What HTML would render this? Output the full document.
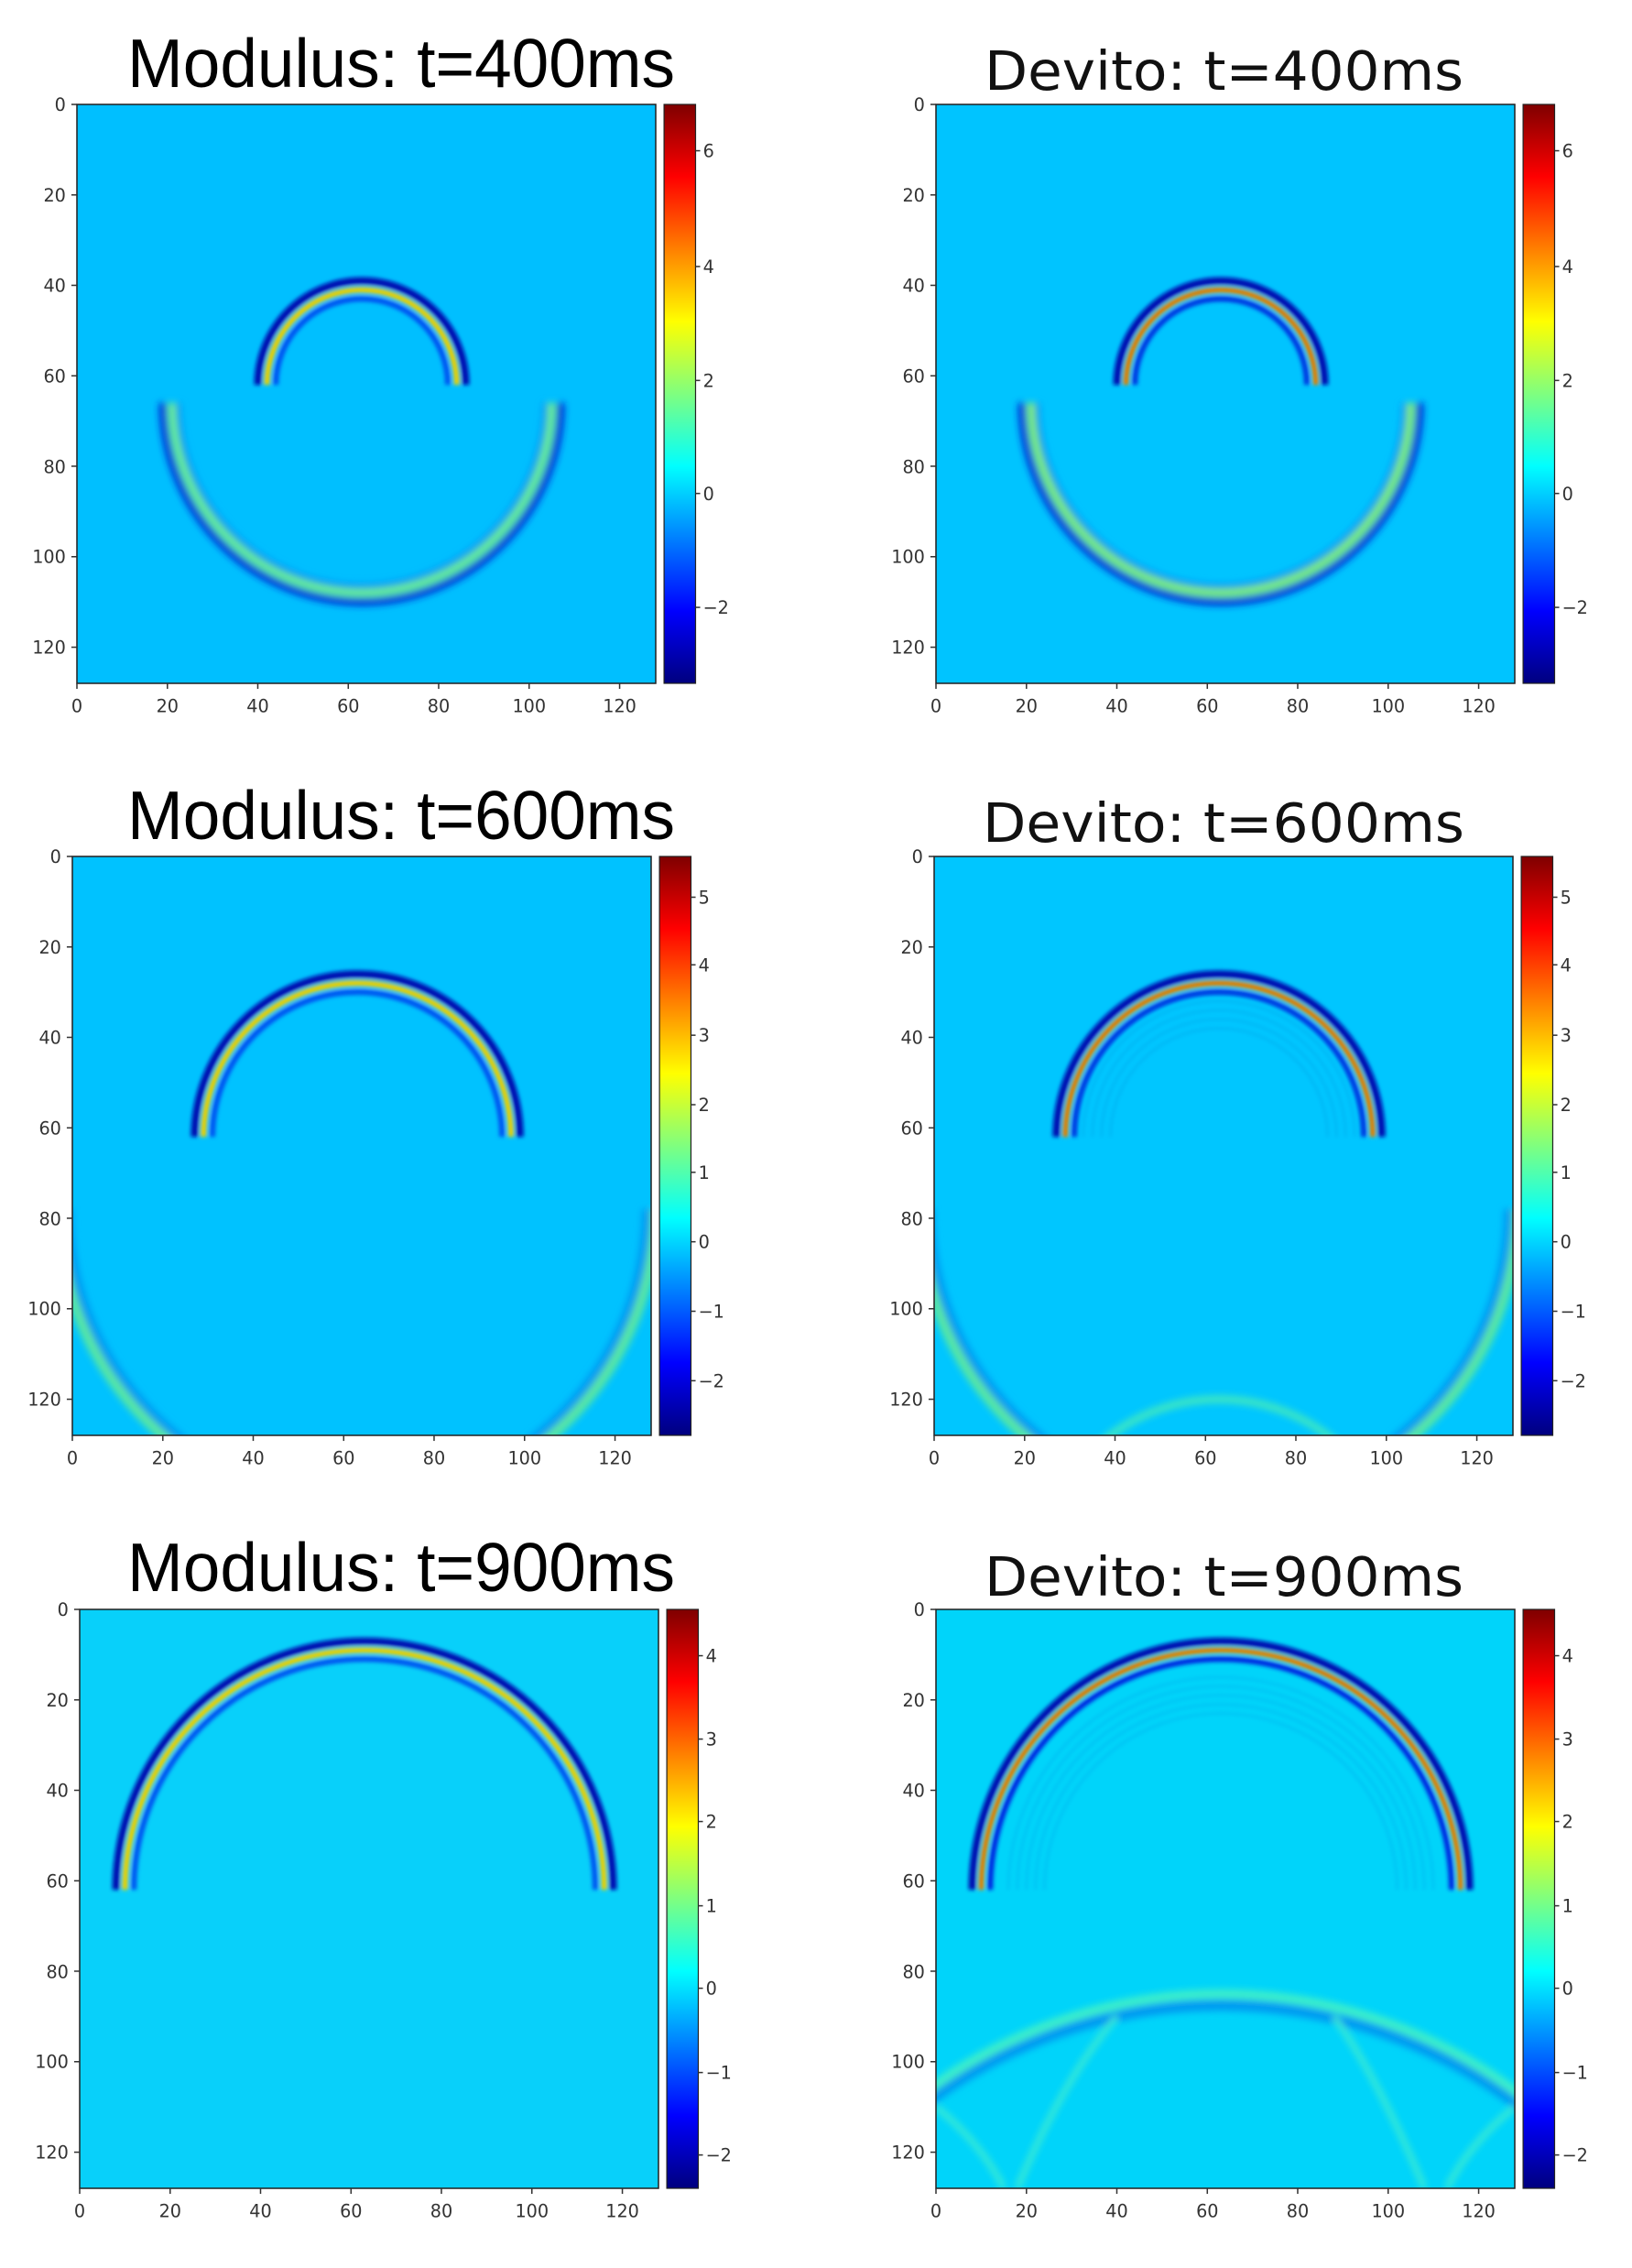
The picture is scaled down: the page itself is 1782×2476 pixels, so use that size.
<!DOCTYPE html>
<html><head><meta charset="utf-8"><style>
html,body{margin:0;padding:0;background:#fff;width:1782px;height:2476px;overflow:hidden;}
svg{display:block}
.t{font-family:"DejaVu Sans",sans-serif;font-size:19px;fill:#333}
</style></head><body>
<svg width="1782" height="2476" viewBox="0 0 1782 2476" xmlns="http://www.w3.org/2000/svg">
<defs>
<linearGradient id="jet" x1="0" y1="0" x2="0" y2="1">
<stop offset="0" stop-color="#7f0000"/><stop offset="0.125" stop-color="#ff0000"/><stop offset="0.375" stop-color="#ffff00"/><stop offset="0.5" stop-color="#7fff7f"/><stop offset="0.625" stop-color="#00ffff"/><stop offset="0.875" stop-color="#0000ff"/><stop offset="1" stop-color="#00007f"/>
</linearGradient>
<filter id="b" x="-20%" y="-20%" width="140%" height="140%"><feGaussianBlur stdDeviation="0.45"/></filter>
<filter id="b2" x="-20%" y="-20%" width="140%" height="140%"><feGaussianBlur stdDeviation="0.8"/></filter>
<g id="yt">
<g class="t" text-anchor="end">
<text x="-12" y="7">0</text><text x="-12" y="105">20</text><text x="-12" y="202">40</text><text x="-12" y="300">60</text><text x="-12" y="398">80</text><text x="-12" y="495">100</text><text x="-12" y="593">120</text>
</g>
<g stroke="#333" stroke-width="1.5">
<line x1="-6" y1="0" x2="0" y2="0"/><line x1="-6" y1="97.7" x2="0" y2="97.7"/><line x1="-6" y1="195.3" x2="0" y2="195.3"/><line x1="-6" y1="293" x2="0" y2="293"/><line x1="-6" y1="390.6" x2="0" y2="390.6"/><line x1="-6" y1="488.3" x2="0" y2="488.3"/><line x1="-6" y1="586" x2="0" y2="586"/>
<line x1="0" y1="625" x2="0" y2="631"/><line x1="97.7" y1="625" x2="97.7" y2="631"/><line x1="195.3" y1="625" x2="195.3" y2="631"/><line x1="293" y1="625" x2="293" y2="631"/><line x1="390.6" y1="625" x2="390.6" y2="631"/><line x1="488.3" y1="625" x2="488.3" y2="631"/><line x1="586" y1="625" x2="586" y2="631"/>
</g>
<g class="t" text-anchor="middle">
<text x="0" y="656">0</text><text x="97.7" y="656">20</text><text x="195.3" y="656">40</text><text x="293" y="656">60</text><text x="390.6" y="656">80</text><text x="488.3" y="656">100</text><text x="586" y="656">120</text>
</g>
</g>
</defs>

<!-- Titles -->
<g font-family="'Liberation Sans',Arial,sans-serif" font-size="75" fill="#000">
<text x="139" y="95" textLength="598" lengthAdjust="spacingAndGlyphs">Modulus: t=400ms</text>
<text x="139" y="916" textLength="598" lengthAdjust="spacingAndGlyphs">Modulus: t=600ms</text>
<text x="139" y="1737" textLength="598" lengthAdjust="spacingAndGlyphs">Modulus: t=900ms</text>
</g>
<g font-family="'DejaVu Sans',sans-serif" font-size="59" fill="#111">
<text x="1075" y="98" textLength="523" lengthAdjust="spacingAndGlyphs">Devito: t=400ms</text>
<text x="1073" y="919" textLength="526" lengthAdjust="spacingAndGlyphs">Devito: t=600ms</text>
<text x="1075" y="1742" textLength="523" lengthAdjust="spacingAndGlyphs">Devito: t=900ms</text>
</g>

<!-- P1 Modulus 400 -->
<g transform="translate(84,114) scale(1.0112)">
<svg width="625" height="625" viewBox="0 0 128 128" preserveAspectRatio="none" fill="none">
<rect width="128" height="128" fill="#00bfff"/>
<g filter="url(#b2)">
<path d="M22,66 A41 41 0 0 0 104,66" stroke="#0090f0" stroke-width="2"/>
<path d="M19,66 A44 44 0 0 0 107,66" stroke="#0020d0" stroke-width="1.6"/>
<path d="M21,66 A42 42 0 0 0 105,66" stroke="#6af090" stroke-width="1.8"/>
</g>
<g filter="url(#b)">
<path d="M40,62 A23 23 0 0 1 86,62" stroke="#0010b0" stroke-width="1.6"/>
<path d="M42,62 A21 21 0 0 1 84,62" stroke="#f0d000" stroke-width="1.3"/>
<path d="M44,62 A19 19 0 0 1 82,62" stroke="#0050f0" stroke-width="1.2"/>
</g>
</svg>
<rect width="625" height="625" fill="none" stroke="#222" stroke-width="1.5"/>
<use href="#yt"/>
<g transform="translate(634,0)"><rect width="34" height="625" fill="url(#jet)" stroke="#222" stroke-width="1.2"/>
<g class="t"><text x="42" y="57">6</text><text x="42" y="182">4</text><text x="42" y="305">2</text><text x="42" y="427">0</text><text x="42" y="550">−2</text></g>
<g stroke="#333" stroke-width="1.5"><line x1="34" y1="50" x2="39" y2="50"/><line x1="34" y1="175" x2="39" y2="175"/><line x1="34" y1="298" x2="39" y2="298"/><line x1="34" y1="420" x2="39" y2="420"/><line x1="34" y1="543" x2="39" y2="543"/></g></g>
</g>

<!-- P2 Devito 400 -->
<g transform="translate(1022,114) scale(1.0112)">
<svg width="625" height="625" viewBox="0 0 128 128" preserveAspectRatio="none" fill="none">
<rect width="128" height="128" fill="#00c4ff"/>
<g filter="url(#b2)">
<path d="M22,66 A41 41 0 0 0 104,66" stroke="#0090f0" stroke-width="2"/>
<path d="M19,66 A44 44 0 0 0 107,66" stroke="#0020d0" stroke-width="1.6"/>
<path d="M21,66 A42 42 0 0 0 105,66" stroke="#80f070" stroke-width="1.8"/>
</g>
<g filter="url(#b)">
<path d="M40,62 A23 23 0 0 1 86,62" stroke="#0010b0" stroke-width="1.6"/>
<path d="M42,62 A21 21 0 0 1 84,62" stroke="#f0c000" stroke-width="1.3"/>
<path d="M42,62 A21 21 0 0 1 84,62" stroke="#e02000" stroke-width="0.6"/>
<path d="M44,62 A19 19 0 0 1 82,62" stroke="#0030e0" stroke-width="1.2"/>
</g>
</svg>
<rect width="625" height="625" fill="none" stroke="#222" stroke-width="1.5"/>
<use href="#yt"/>
<g transform="translate(634,0)"><rect width="34" height="625" fill="url(#jet)" stroke="#222" stroke-width="1.2"/>
<g class="t"><text x="42" y="57">6</text><text x="42" y="182">4</text><text x="42" y="305">2</text><text x="42" y="427">0</text><text x="42" y="550">−2</text></g>
<g stroke="#333" stroke-width="1.5"><line x1="34" y1="50" x2="39" y2="50"/><line x1="34" y1="175" x2="39" y2="175"/><line x1="34" y1="298" x2="39" y2="298"/><line x1="34" y1="420" x2="39" y2="420"/><line x1="34" y1="543" x2="39" y2="543"/></g></g>
</g>

<!-- P3 Modulus 600 -->
<g transform="translate(79,935) scale(1.0112)">
<svg width="625" height="625" viewBox="0 0 128 128" preserveAspectRatio="none" fill="none">
<rect width="128" height="128" fill="#00c2ff"/>
<g filter="url(#b2)">
<path d="M-1,78 A64 64 0 0 0 127,78" stroke="#0098f0" stroke-width="2"/>
<path d="M-3,78 A66 66 0 0 0 129,78" stroke="#5ae8a0" stroke-width="2.2"/>
</g>
<g filter="url(#b)">
<path d="M27,62 A36 36 0 0 1 99,62" stroke="#0010b0" stroke-width="1.6"/>
<path d="M29,62 A34 34 0 0 1 97,62" stroke="#f0d000" stroke-width="1.3"/>
<path d="M31,62 A32 32 0 0 1 95,62" stroke="#0050f0" stroke-width="1.2"/>
</g>
</svg>
<rect width="625" height="625" fill="none" stroke="#222" stroke-width="1.5"/>
<use href="#yt"/>
<g transform="translate(634,0)"><rect width="34" height="625" fill="url(#jet)" stroke="#222" stroke-width="1.2"/>
<g class="t"><text x="42" y="51">5</text><text x="42" y="124">4</text><text x="42" y="200">3</text><text x="42" y="275">2</text><text x="42" y="348">1</text><text x="42" y="423">0</text><text x="42" y="498">−1</text><text x="42" y="573">−2</text></g>
<g stroke="#333" stroke-width="1.5"><line x1="34" y1="44" x2="39" y2="44"/><line x1="34" y1="117" x2="39" y2="117"/><line x1="34" y1="193" x2="39" y2="193"/><line x1="34" y1="268" x2="39" y2="268"/><line x1="34" y1="341" x2="39" y2="341"/><line x1="34" y1="416" x2="39" y2="416"/><line x1="34" y1="491" x2="39" y2="491"/><line x1="34" y1="566" x2="39" y2="566"/></g></g>
</g>

<!-- P4 Devito 600 -->
<g transform="translate(1020,935) scale(1.0112)">
<svg width="625" height="625" viewBox="0 0 128 128" preserveAspectRatio="none" fill="none">
<rect width="128" height="128" fill="#00c6ff"/>
<g filter="url(#b2)">
<path d="M-1,78 A64 64 0 0 0 127,78" stroke="#0098f0" stroke-width="2"/>
<path d="M-3,78 A66 66 0 0 0 129,78" stroke="#5ae8a0" stroke-width="2.2"/>
<path d="M23,160 A40 40 0 0 1 103,160" stroke="#40e8c0" stroke-width="1.6"/>
</g>
<g filter="url(#b)">
<g stroke="#00aef0" stroke-width="0.35">
<path d="M33,62 A30 30 0 0 1 93,62"/><path d="M35,62 A28 28 0 0 1 91,62"/><path d="M37,62 A26 26 0 0 1 89,62"/><path d="M39,62 A24 24 0 0 1 87,62"/>
</g>
<path d="M27,62 A36 36 0 0 1 99,62" stroke="#0010b0" stroke-width="1.6"/>
<path d="M29,62 A34 34 0 0 1 97,62" stroke="#f0c000" stroke-width="1.3"/>
<path d="M29,62 A34 34 0 0 1 97,62" stroke="#e02000" stroke-width="0.6"/>
<path d="M31,62 A32 32 0 0 1 95,62" stroke="#0030e0" stroke-width="1.2"/>
</g>
</svg>
<rect width="625" height="625" fill="none" stroke="#222" stroke-width="1.5"/>
<use href="#yt"/>
<g transform="translate(634,0)"><rect width="34" height="625" fill="url(#jet)" stroke="#222" stroke-width="1.2"/>
<g class="t"><text x="42" y="51">5</text><text x="42" y="124">4</text><text x="42" y="200">3</text><text x="42" y="275">2</text><text x="42" y="348">1</text><text x="42" y="423">0</text><text x="42" y="498">−1</text><text x="42" y="573">−2</text></g>
<g stroke="#333" stroke-width="1.5"><line x1="34" y1="44" x2="39" y2="44"/><line x1="34" y1="117" x2="39" y2="117"/><line x1="34" y1="193" x2="39" y2="193"/><line x1="34" y1="268" x2="39" y2="268"/><line x1="34" y1="341" x2="39" y2="341"/><line x1="34" y1="416" x2="39" y2="416"/><line x1="34" y1="491" x2="39" y2="491"/><line x1="34" y1="566" x2="39" y2="566"/></g></g>
</g>

<!-- P5 Modulus 900 -->
<g transform="translate(87,1757) scale(1.0112)">
<svg width="625" height="625" viewBox="0 0 128 128" preserveAspectRatio="none" fill="none">
<rect width="128" height="128" fill="#08d0fa"/>
<g filter="url(#b)">
<path d="M8,62 A55 55 0 0 1 118,62" stroke="#0010b0" stroke-width="1.6"/>
<path d="M10,62 A53 53 0 0 1 116,62" stroke="#f0d000" stroke-width="1.3"/>
<path d="M12,62 A51 51 0 0 1 114,62" stroke="#0050f0" stroke-width="1.2"/>
</g>
</svg>
<rect width="625" height="625" fill="none" stroke="#222" stroke-width="1.5"/>
<use href="#yt"/>
<g transform="translate(634,0)"><rect width="34" height="625" fill="url(#jet)" stroke="#222" stroke-width="1.2"/>
<g class="t"><text x="42" y="57">4</text><text x="42" y="147">3</text><text x="42" y="236">2</text><text x="42" y="327">1</text><text x="42" y="416">0</text><text x="42" y="507">−1</text><text x="42" y="596">−2</text></g>
<g stroke="#333" stroke-width="1.5"><line x1="34" y1="50" x2="39" y2="50"/><line x1="34" y1="140" x2="39" y2="140"/><line x1="34" y1="229" x2="39" y2="229"/><line x1="34" y1="320" x2="39" y2="320"/><line x1="34" y1="409" x2="39" y2="409"/><line x1="34" y1="500" x2="39" y2="500"/><line x1="34" y1="589" x2="39" y2="589"/></g></g>
</g>

<!-- P6 Devito 900 -->
<g transform="translate(1022,1757) scale(1.0112)">
<svg width="625" height="625" viewBox="0 0 128 128" preserveAspectRatio="none" fill="none">
<rect width="128" height="128" fill="#00d4fa"/>
<g filter="url(#b2)">
<path d="M-46,194 A109 109 0 0 1 172,194" stroke="#0098f0" stroke-width="2.4" transform="translate(0,2.5)"/>
<path d="M-46,194 A109 109 0 0 1 172,194" stroke="#40f0c8" stroke-width="2"/>
<path d="M18,128 Q28,104 40,90" stroke="#40ecd0" stroke-width="1.2"/>
<path d="M108,128 Q98,104 88,90" stroke="#40ecd0" stroke-width="1.2"/>
<path d="M0,110 Q10,118 15,128" stroke="#40ecd0" stroke-width="1.2"/>
<path d="M128,110 Q118,118 113,128" stroke="#40ecd0" stroke-width="1.2"/>
</g>
<g filter="url(#b)">
<g stroke="#00b8f0" stroke-width="0.35">
<path d="M16,62 A47 47 0 0 1 110,62"/><path d="M18,62 A45 45 0 0 1 108,62"/><path d="M20,62 A43 43 0 0 1 106,62"/><path d="M22,62 A41 41 0 0 1 104,62"/><path d="M24,62 A39 39 0 0 1 102,62"/>
</g>
<path d="M8,62 A55 55 0 0 1 118,62" stroke="#0010b0" stroke-width="1.6"/>
<path d="M10,62 A53 53 0 0 1 116,62" stroke="#f0c000" stroke-width="1.3"/>
<path d="M10,62 A53 53 0 0 1 116,62" stroke="#e02000" stroke-width="0.6"/>
<path d="M12,62 A51 51 0 0 1 114,62" stroke="#0020e0" stroke-width="1.2"/>
</g>
</svg>
<rect width="625" height="625" fill="none" stroke="#222" stroke-width="1.5"/>
<use href="#yt"/>
<g transform="translate(634,0)"><rect width="34" height="625" fill="url(#jet)" stroke="#222" stroke-width="1.2"/>
<g class="t"><text x="42" y="57">4</text><text x="42" y="147">3</text><text x="42" y="236">2</text><text x="42" y="327">1</text><text x="42" y="416">0</text><text x="42" y="507">−1</text><text x="42" y="596">−2</text></g>
<g stroke="#333" stroke-width="1.5"><line x1="34" y1="50" x2="39" y2="50"/><line x1="34" y1="140" x2="39" y2="140"/><line x1="34" y1="229" x2="39" y2="229"/><line x1="34" y1="320" x2="39" y2="320"/><line x1="34" y1="409" x2="39" y2="409"/><line x1="34" y1="500" x2="39" y2="500"/><line x1="34" y1="589" x2="39" y2="589"/></g></g>
</g>
</svg>
</body></html>
